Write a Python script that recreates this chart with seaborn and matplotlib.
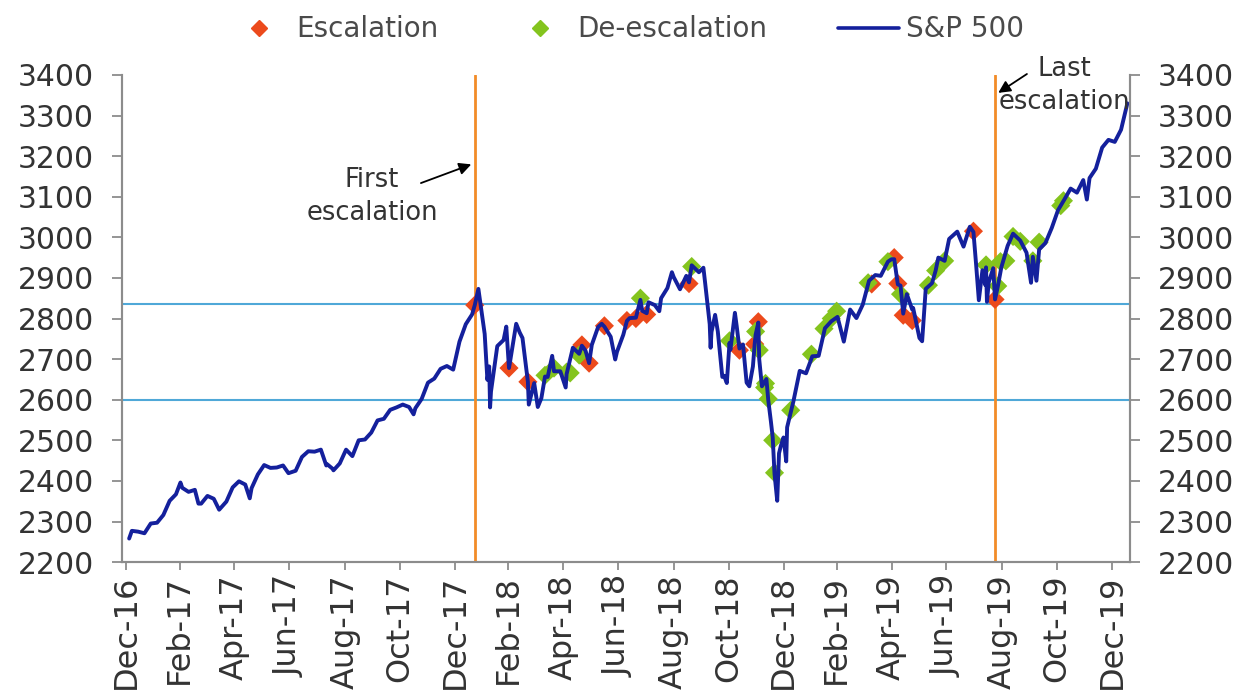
import matplotlib
matplotlib.use("Agg")
import matplotlib.pyplot as plt
from matplotlib.lines import Line2D
import seaborn as sns
import pandas as pd

# ---------------- data ----------------
spx_dates = [
    "2017-01-03", "2017-01-06", "2017-01-13", "2017-01-20", "2017-01-27", "2017-02-03", "2017-02-10",
    "2017-02-17", "2017-02-24", "2017-03-01", "2017-03-03", "2017-03-10", "2017-03-17", "2017-03-21",
    "2017-03-24", "2017-03-31", "2017-04-07", "2017-04-13", "2017-04-21", "2017-04-28", "2017-05-05",
    "2017-05-12", "2017-05-17", "2017-05-19", "2017-05-26", "2017-06-02", "2017-06-09", "2017-06-16",
    "2017-06-23", "2017-06-29", "2017-07-07", "2017-07-14", "2017-07-21", "2017-07-28", "2017-08-04",
    "2017-08-10", "2017-08-11", "2017-08-17", "2017-08-18", "2017-08-25", "2017-09-01", "2017-09-08",
    "2017-09-15", "2017-09-22", "2017-09-29", "2017-10-06", "2017-10-13", "2017-10-20", "2017-10-27",
    "2017-11-03", "2017-11-10", "2017-11-15", "2017-11-17", "2017-11-24", "2017-12-01", "2017-12-08",
    "2017-12-15", "2017-12-22", "2017-12-29",
    "2018-01-05", "2018-01-12", "2018-01-19", "2018-01-22", "2018-01-26", "2018-02-02", "2018-02-05",
    "2018-02-07", "2018-02-08", "2018-02-09", "2018-02-16", "2018-02-23", "2018-02-26", "2018-03-01",
    "2018-03-02", "2018-03-09", "2018-03-13", "2018-03-16", "2018-03-22", "2018-03-23", "2018-03-29",
    "2018-04-02", "2018-04-06", "2018-04-10", "2018-04-13", "2018-04-18", "2018-04-20", "2018-04-27",
    "2018-05-03", "2018-05-04", "2018-05-11", "2018-05-18", "2018-05-21", "2018-05-25", "2018-05-29",
    "2018-06-01", "2018-06-08", "2018-06-12", "2018-06-15", "2018-06-22", "2018-06-27", "2018-06-29",
    "2018-07-06", "2018-07-10", "2018-07-13", "2018-07-20", "2018-07-25", "2018-07-27", "2018-08-01",
    "2018-08-03", "2018-08-10", "2018-08-15", "2018-08-17", "2018-08-24", "2018-08-29", "2018-08-31",
    "2018-09-07", "2018-09-14", "2018-09-17", "2018-09-20", "2018-09-28", "2018-10-03", "2018-10-05",
    "2018-10-10", "2018-10-11", "2018-10-12", "2018-10-16", "2018-10-19", "2018-10-24", "2018-10-26",
    "2018-10-29", "2018-11-01", "2018-11-02", "2018-11-07", "2018-11-09", "2018-11-12", "2018-11-16",
    "2018-11-20", "2018-11-23", "2018-11-27", "2018-11-29", "2018-11-30", "2018-12-03", "2018-12-04",
    "2018-12-07", "2018-12-12", "2018-12-14", "2018-12-17", "2018-12-19", "2018-12-21", "2018-12-24",
    "2018-12-26", "2018-12-28", "2018-12-31",
    "2019-01-03", "2019-01-04", "2019-01-11", "2019-01-18", "2019-01-25", "2019-02-01", "2019-02-08",
    "2019-02-15", "2019-02-22", "2019-03-01", "2019-03-08", "2019-03-15", "2019-03-22", "2019-03-29",
    "2019-04-05", "2019-04-12", "2019-04-18", "2019-04-26", "2019-04-30", "2019-05-03", "2019-05-07",
    "2019-05-10", "2019-05-13", "2019-05-17", "2019-05-23", "2019-05-24", "2019-05-31", "2019-06-03",
    "2019-06-07", "2019-06-14", "2019-06-18", "2019-06-21", "2019-06-28", "2019-07-03", "2019-07-12",
    "2019-07-19", "2019-07-26", "2019-07-30", "2019-08-02", "2019-08-05", "2019-08-09", "2019-08-12",
    "2019-08-13", "2019-08-14", "2019-08-16", "2019-08-21", "2019-08-23", "2019-08-26", "2019-08-30",
    "2019-09-06", "2019-09-12", "2019-09-20", "2019-09-27", "2019-10-02", "2019-10-04", "2019-10-08",
    "2019-10-11", "2019-10-18", "2019-10-25", "2019-11-01", "2019-11-08", "2019-11-15", "2019-11-22",
    "2019-11-29", "2019-12-03", "2019-12-06", "2019-12-13", "2019-12-20", "2019-12-27",
    "2020-01-03", "2020-01-10", "2020-01-17",
]
spx_values = [
    2258, 2277, 2275, 2271, 2295, 2297, 2316,
    2351, 2367, 2396, 2383, 2373, 2378, 2344,
    2344, 2363, 2356, 2329, 2349, 2384, 2399,
    2391, 2357, 2382, 2416, 2439, 2432, 2433,
    2438, 2419, 2425, 2459, 2473, 2472, 2477,
    2438, 2441, 2430, 2426, 2443, 2477, 2461,
    2500, 2502, 2519, 2549, 2553, 2575, 2581,
    2588, 2582, 2564, 2579, 2602, 2642, 2652,
    2676, 2683, 2674,
    2743, 2786, 2810, 2833, 2873, 2762, 2649,
    2682, 2581, 2620, 2732, 2747, 2780, 2678,
    2691, 2787, 2765, 2752, 2644, 2588, 2641,
    2582, 2604, 2657, 2656, 2708, 2670, 2670,
    2630, 2663, 2728, 2713, 2733, 2721, 2690,
    2735, 2779, 2787, 2780, 2755, 2699, 2718,
    2760, 2794, 2801, 2802, 2846, 2819, 2813,
    2840, 2833, 2818, 2850, 2875, 2914, 2902,
    2872, 2905, 2889, 2931, 2914, 2925, 2886,
    2786, 2728, 2767, 2809, 2768, 2656, 2659,
    2641, 2740, 2723, 2814, 2781, 2726, 2736,
    2642, 2633, 2682, 2738, 2760, 2790, 2700,
    2633, 2651, 2600, 2546, 2507, 2417, 2351,
    2468, 2486, 2507,
    2448, 2532, 2596, 2671, 2665, 2707, 2708,
    2776, 2793, 2804, 2743, 2822, 2801, 2834,
    2893, 2907, 2905, 2940, 2946, 2946, 2884,
    2881, 2812, 2860, 2822, 2826, 2752, 2744,
    2873, 2887, 2918, 2950, 2942, 2996, 3014,
    2977, 3026, 3013, 2932, 2845, 2919, 2883,
    2926, 2841, 2889, 2924, 2847, 2878, 2926,
    2979, 3009, 2992, 2962, 2888, 2952, 2893,
    2970, 2986, 3023, 3067, 3093, 3120, 3110,
    3141, 3093, 3146, 3169, 3221, 3240,
    3235, 3265, 3330,
]

esc_dates = [
    "2018-01-22", "2018-03-01", "2018-03-22", "2018-05-21", "2018-05-29", "2018-06-15", "2018-07-10",
    "2018-07-20", "2018-08-01", "2018-09-17", "2018-11-12", "2018-11-29", "2018-12-03", "2019-04-08",
    "2019-05-03", "2019-05-07", "2019-05-13", "2019-05-23", "2019-07-30", "2019-08-23",
]
esc_values = [
    2833, 2678, 2644, 2735, 2690, 2782, 2795,
    2800, 2810, 2886, 2722, 2737, 2792, 2885,
    2950, 2886, 2808, 2795, 3015, 2847,
]

deesc_dates = [
    "2018-04-10", "2018-04-20", "2018-05-04", "2018-05-08", "2018-05-18", "2018-07-25", "2018-09-20",
    "2018-11-01", "2018-11-30", "2018-12-04", "2018-12-10", "2018-12-11", "2018-12-14", "2018-12-19",
    "2018-12-21", "2019-01-08", "2019-01-31", "2019-02-14", "2019-02-22", "2019-02-28", "2019-04-04",
    "2019-04-26", "2019-05-10", "2019-06-10", "2019-06-18", "2019-06-28", "2019-08-13", "2019-08-26",
    "2019-08-29", "2019-09-04", "2019-09-12", "2019-09-20", "2019-10-04", "2019-10-11", "2019-11-04",
    "2019-11-07",
]
deesc_values = [
    2660, 2678, 2668, 2666, 2710, 2850, 2928,
    2745, 2768, 2722, 2630, 2640, 2602, 2500,
    2420, 2574, 2712, 2775, 2800, 2818, 2888,
    2940, 2860, 2882, 2918, 2942, 2932, 2880,
    2940, 2942, 3002, 2990, 2942, 2988, 3078,
    3090,
]

h_levels = [2835, 2600]
event_lines = ["2018-01-22", "2019-08-23"]
y_min, y_max, y_step = 2200, 3400, 100
tick_months = pd.date_range("2016-12-31", "2019-12-31", freq="2ME")
x_start, x_end = "2016-12-26", "2020-01-20"

# ---------------- style ----------------
sns.set_style("white")
plt.rcParams["font.family"] = ["DejaVu Sans"]
TXT = "#333333"
LEG_TXT = "#4a4a4a"
NAVY = "#14209C"
RED = "#EC4A1C"
GREEN = "#84C41E"
ORANGE = "#F28C28"
LBLUE = "#4FA8D8"
SPINE = "#8C8C8C"

spx = pd.DataFrame({"date": pd.to_datetime(spx_dates), "value": spx_values})
esc = pd.DataFrame({"date": pd.to_datetime(esc_dates), "value": esc_values})
dee = pd.DataFrame({"date": pd.to_datetime(deesc_dates), "value": deesc_values})

fig = plt.figure(figsize=(12.52, 7), dpi=100)
ax = fig.add_axes([0.0974, 0.197, 0.8052, 0.696])

for lvl in h_levels:
    ax.axhline(lvl, color=LBLUE, lw=1.5, zorder=1)
for d in event_lines:
    ax.axvline(pd.Timestamp(d), color=ORANGE, lw=2, zorder=1)

sns.scatterplot(data=esc, x="date", y="value", marker="D", s=95, color=RED,
                edgecolor="none", ax=ax, zorder=2, legend=False)
sns.scatterplot(data=dee, x="date", y="value", marker="D", s=95, color=GREEN,
                edgecolor="none", ax=ax, zorder=2, legend=False)
sns.lineplot(data=spx, x="date", y="value", color=NAVY, lw=2.8, ax=ax, zorder=3)

ax.set_xlim(pd.Timestamp(x_start), pd.Timestamp(x_end))
ax.set_ylim(y_min, y_max)
yt = list(range(y_min, y_max + 1, y_step))
ax.set_yticks(yt)
ax.set_xticks(tick_months)
ax.set_xticklabels([d.strftime("%b-%y") for d in tick_months], rotation=90)
ax.set_xlabel("")
ax.set_ylabel("")

ax2 = ax.twinx()
ax2.set_ylim(y_min, y_max)
ax2.set_yticks(yt)

for a in (ax, ax2):
    a.spines["top"].set_visible(False)
    for side in ("left", "right", "bottom"):
        a.spines[side].set_color(SPINE)
        a.spines[side].set_linewidth(1.5)
    a.tick_params(axis="y", which="major", direction="out", length=7, width=1.3,
                  color=SPINE, labelsize=21.5, labelcolor=TXT, pad=13)
ax.tick_params(axis="x", which="major", direction="out", length=6, width=1.3,
               color=SPINE, labelsize=23, labelcolor=TXT, pad=3, bottom=True)
ax.tick_params(axis="y", left=True)
ax2.tick_params(axis="y", right=True)

# annotations
ax.text(0.248, 0.75, "First\nescalation", transform=ax.transAxes, ha="center", va="center",
        fontsize=18.5, color=TXT, linespacing=1.35)
ax.annotate("", xy=(pd.Timestamp("2018-01-21"), 3182), xycoords="data",
            xytext=(0.294, 0.776), textcoords="axes fraction",
            arrowprops=dict(arrowstyle="-|>", color="black", lw=1.3, mutation_scale=18))
ax.text(0.935, 0.978, "Last\nescalation", transform=ax.transAxes, ha="center", va="center",
        fontsize=18.5, color=TXT, linespacing=1.35)
ax.annotate("", xy=(pd.Timestamp("2019-08-24"), 3352), xycoords="data",
            xytext=(0.9, 1.005), textcoords="axes fraction",
            arrowprops=dict(arrowstyle="-|>", color="black", lw=1.3, mutation_scale=18))

handles = [
    Line2D([], [], marker="D", color=RED, linestyle="none", markersize=8),
    Line2D([], [], marker="D", color=GREEN, linestyle="none", markersize=8),
    Line2D([], [], color=NAVY, lw=2.6),
]
fig.legend(handles, ["Escalation", "De-escalation", "S&P 500"], loc="center",
           bbox_to_anchor=(0.5, 0.958), ncol=3, frameon=False, fontsize=20,
           handlelength=2.2, handletextpad=0.25, columnspacing=2.55, labelcolor=LEG_TXT)

fig.savefig("out.png", dpi=100)
